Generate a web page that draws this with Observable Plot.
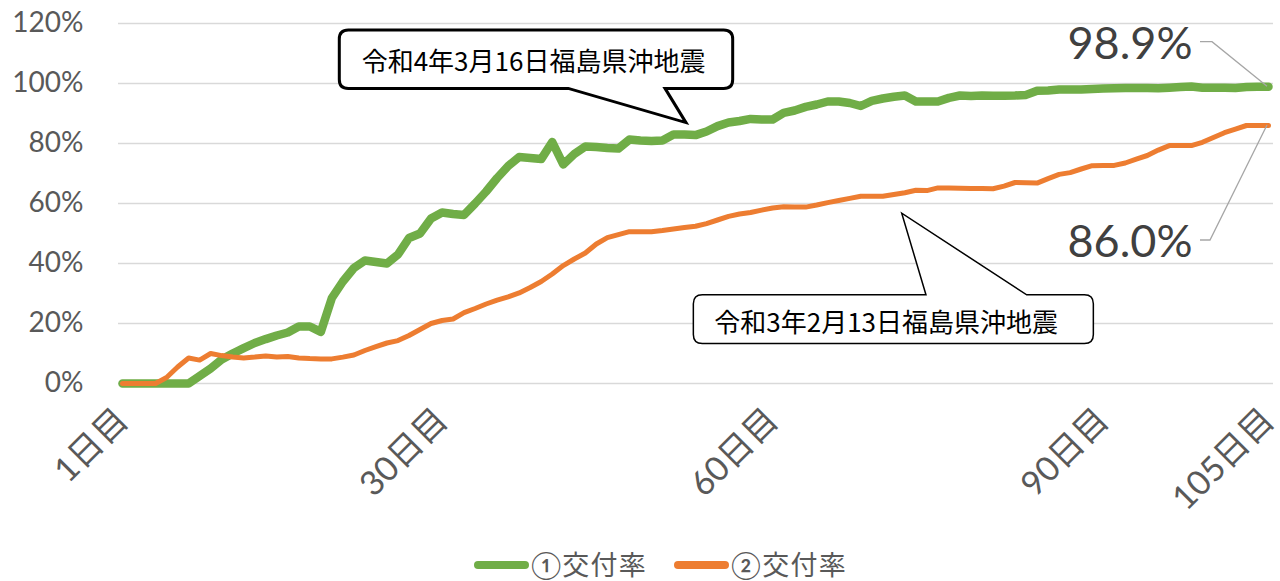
<!DOCTYPE html>
<html><head><meta charset="utf-8">
<script src="https://cdn.jsdelivr.net/npm/d3@7"></script>
<script src="https://cdn.jsdelivr.net/npm/@observablehq/plot@0.6"></script>
<style>
body{margin:0;background:#fff;font-family:Lato,'Noto Sans CJK JP',sans-serif;}
#wrap{position:relative;width:1280px;height:581px;overflow:hidden;}
#legend{position:absolute;left:474px;top:549px;height:32px;line-height:32px;display:flex;align-items:center;font-size:27px;letter-spacing:1.3px;color:#595959;font-family:Lato,'Noto Sans CJK JP',sans-serif;}
.sw{display:inline-block;width:55px;height:8px;border-radius:4px;margin-right:2px;}
.it{display:flex;align-items:center;margin-right:27px;}
</style></head><body><div id="wrap"><div id="chart"></div><div id="legend"></div></div>
<script>
const seriesNames = ["①交付率", "②交付率"];
const seriesColors = ["#70ad47", "#ed7d31"];
const days = d3.range(1, 106);
const rate1 = [0,0,0,0,0,0,0,2.5,5,8,10,11.8,13.5,14.8,16,17,19,19,17.2,28.5,
  34,38.5,41,40.5,40,43,48.5,50,55,57,56.5,56.2,60,64,68.5,72.5,75.5,75.2,74.8,80.5,
  73,76.5,79,78.8,78.5,78.3,81.3,81,80.8,81,83,83,82.8,84,85.8,87,87.5,88.2,88,88,
  90.2,91,92.2,93,94,94,93.5,92.5,94.2,95,95.6,96,94,94,94,95.2,96,95.8,96,95.9,
  95.9,96,96.2,97.6,97.7,98,98,98,98.2,98.3,98.4,98.5,98.5,98.5,98.4,98.6,98.8,99,98.6,98.6,
  98.6,98.5,98.8,98.9,98.9];
const rate2 = [0,0,0,0,2,5.5,8.5,7.8,10,9.3,8.8,8.5,8.8,9.2,8.8,9,8.5,8.3,8.2,8.2,
  8.8,9.5,11,12.3,13.5,14.3,16,18,20,21,21.5,23.6,25,26.5,27.8,28.9,30.2,32,34,36.5,
  39.3,41.5,43.5,46.5,48.6,49.6,50.6,50.6,50.6,51,51.5,52,52.4,53.3,54.5,55.7,56.5,57,57.8,58.5,
  58.9,58.8,58.8,59.5,60.3,61,61.7,62.4,62.4,62.4,63,63.6,64.4,64.3,65.2,65.2,65.1,65,65,64.9,
  65.8,67,66.9,66.8,68.3,69.7,70.3,71.5,72.6,72.7,72.7,73.5,74.8,76,77.8,79.3,79.3,79.3,80.4,82,
  83.6,84.8,86,86,86];
const xTicks = [1, 30, 60, 90, 105];
const yTicks = [0, 20, 40, 60, 80, 100, 120];
const calloutTexts = ["令和4年3月16日福島県沖地震", "令和3年2月13日福島県沖地震"];

const s1 = days.map((d, i) => ({day: d, v: rate1[i]}));
const s2 = days.map((d, i) => ({day: d, v: rate2[i]}));
const last1 = s1[s1.length - 1], last2 = s2[s2.length - 1];

// callout shapes in data coordinates (day, %)
const callouts = [
  {x1: 20.72, x2: 56.42, y1: 98.2, y2: 117.7, side: "bottom", bL: 41.5, bR: 50.28, tx: 52.18, ty: 86.8, sw: 3, cx: 38.3, cy: 107.1, text: calloutTexts[0]},
  {x1: 52.85, x2: 89.15, y1: 13.2, y2: 29.4, side: "top", bL: 73.96, bR: 83.1, tx: 71.76, ty: 56.6, sw: 1.5, cx: 70.3, cy: 20.1, text: calloutTexts[1]}
];

function calloutMark(c) {
  return (index, scales) => {
    const {x, y} = scales;
    const x0 = x(c.x1), x1 = x(c.x2), y0 = y(c.y2), y1 = y(c.y1), r = 9;
    const bl = x(c.bL), br = x(c.bR), px = x(c.tx), py = y(c.ty);
    let d;
    if (c.side === "bottom") {
      d = `M${x0+r},${y0}H${x1-r}Q${x1},${y0} ${x1},${y0+r}V${y1-r}Q${x1},${y1} ${x1-r},${y1}H${br}L${px},${py}L${bl},${y1}H${x0+r}Q${x0},${y1} ${x0},${y1-r}V${y0+r}Q${x0},${y0} ${x0+r},${y0}Z`;
    } else {
      d = `M${x0+r},${y0}H${bl}L${px},${py}L${br},${y0}H${x1-r}Q${x1},${y0} ${x1},${y0+r}V${y1-r}Q${x1},${y1} ${x1-r},${y1}H${x0+r}Q${x0},${y1} ${x0},${y1-r}V${y0+r}Q${x0},${y0} ${x0+r},${y0}Z`;
    }
    return d3.create("svg:path").attr("d", d).attr("fill", "white").attr("stroke", "black")
      .attr("stroke-width", c.sw).attr("stroke-linejoin", "miter").node();
  };
}

function leaderMark(pt, ox, oy, elbow) {
  return (index, scales) => {
    const X = scales.x(pt.day), Y = scales.y(pt.v);
    const d = `M${X + ox},${Y + oy}H${X + ox + elbow}L${X - 1},${Y}`;
    return d3.create("svg:path").attr("d", d).attr("fill", "none").attr("stroke", "#a6a6a6")
      .attr("stroke-width", 1.3).node();
  };
}

const chart = Plot.plot({
  width: 1280, height: 545,
  marginLeft: 118, marginRight: 7, marginTop: 23, marginBottom: 162,
  insetLeft: 4, insetRight: 5,
  style: {fontFamily: "Lato, 'Noto Sans CJK JP', sans-serif", fontSize: "28px", color: "#595959", background: "white", overflow: "visible"},
  x: {type: "linear", domain: [1, 105]},
  y: {domain: [0, 120]},
  marks: [
    Plot.gridY(yTicks, {stroke: "#d9d9d9", strokeOpacity: 1, strokeWidth: 1.5}),
    Plot.axisY({ticks: yTicks, tickFormat: d => d + "%", tickSize: 0, tickPadding: 35, fontSize: 28, label: null}),
    Plot.axisX({ticks: xTicks, tickFormat: d => d + "日目", tickRotate: -45, tickSize: 0, tickPadding: 31, fontSize: 34, label: null}),
    Plot.line(s1, {x: "day", y: "v", stroke: seriesColors[0], strokeWidth: 8.5, strokeLinejoin: "round", strokeLinecap: "round"}),
    Plot.line(s2, {x: "day", y: "v", stroke: seriesColors[1], strokeWidth: 5, strokeLinejoin: "round", strokeLinecap: "round"}),
    ...callouts.map(calloutMark),
    Plot.text(callouts, {x: "cx", y: "cy", text: "text", fontSize: 26, fill: "black", fontFamily: "'Noto Sans CJK JP', sans-serif", letterSpacing: 1.2}),
    leaderMark(last1, -68, -44.6, 12),
    leaderMark(last2, -68, 115, 10),
    Plot.text([last1], {x: "day", y: "v", text: d => d.v.toFixed(1) + "%", dx: -76, dy: -42, textAnchor: "end", fontSize: 45, fill: "#404040"}),
    Plot.text([last2], {x: "day", y: "v", text: d => d.v.toFixed(1) + "%", dx: -76, dy: 117, textAnchor: "end", fontSize: 45, fill: "#404040"})
  ]
});
document.getElementById("chart").appendChild(chart);

const legend = d3.select("#legend");
seriesNames.forEach((n, i) => {
  const it = legend.append("div").attr("class", "it");
  it.append("span").attr("class", "sw").style("background", seriesColors[i]);
  it.append("span").text(n);
});
</script>
</body></html>
